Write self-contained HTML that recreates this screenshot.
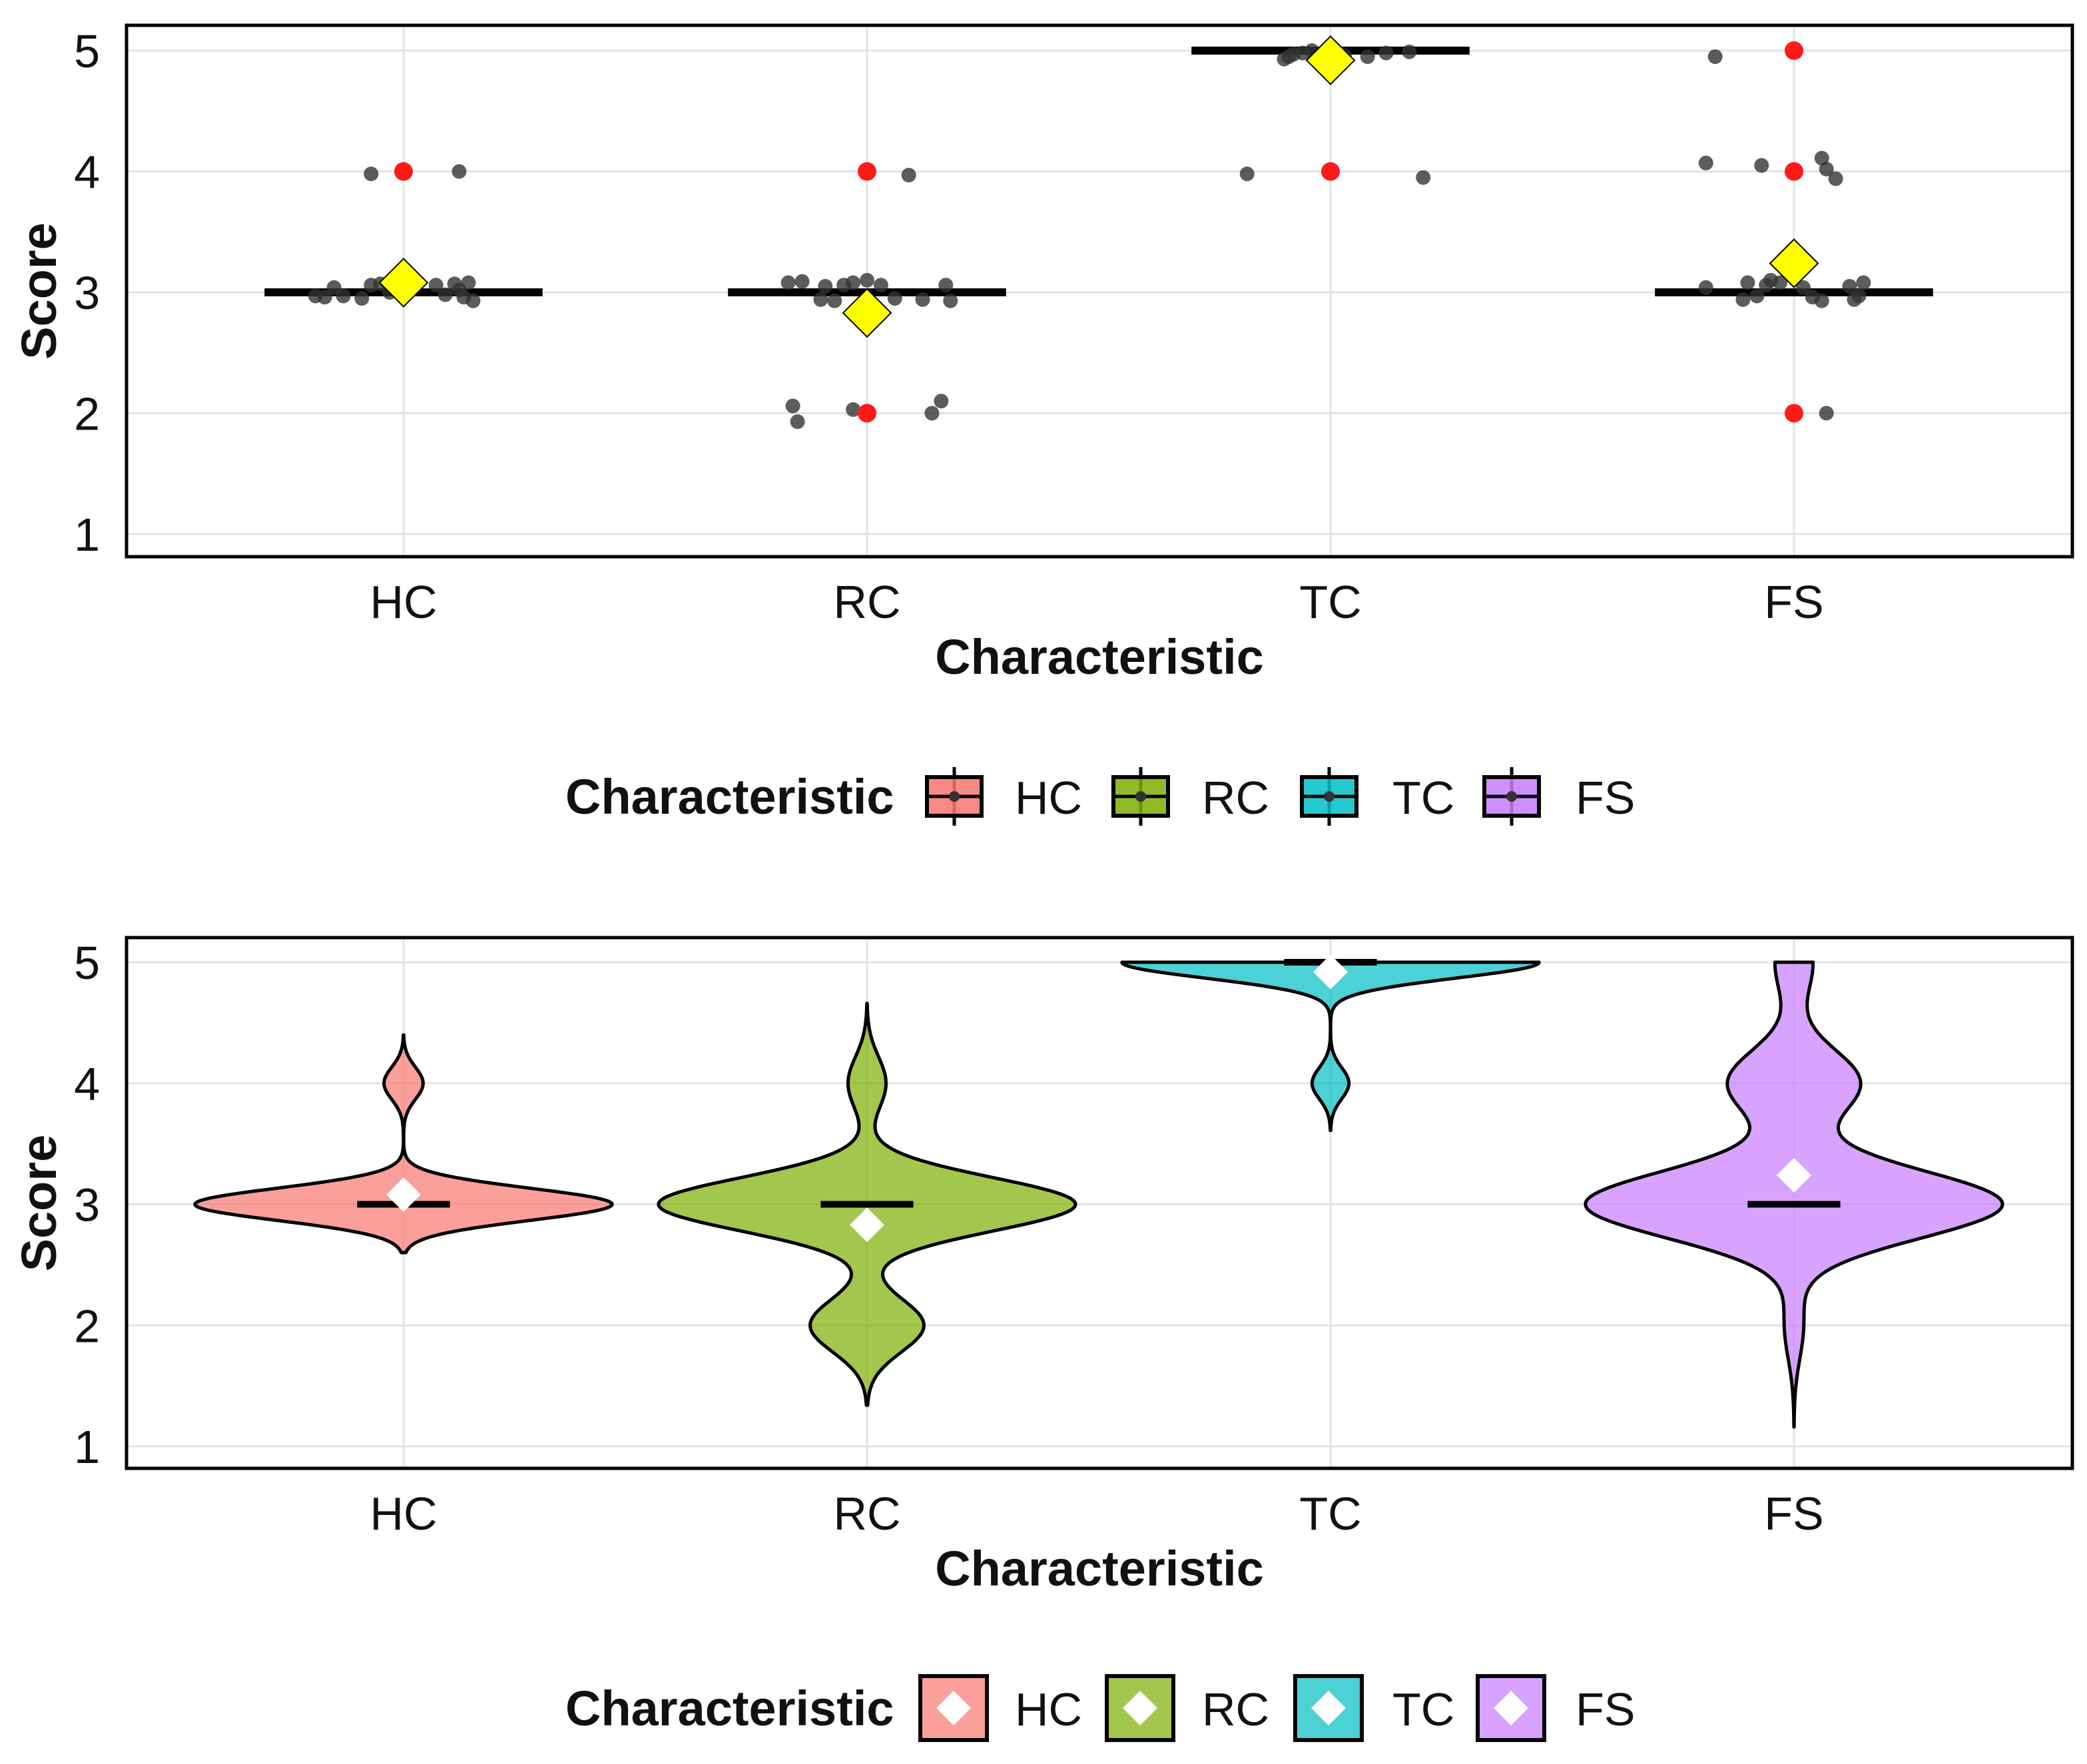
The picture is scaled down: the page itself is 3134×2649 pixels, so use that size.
<!DOCTYPE html>
<html><head><meta charset="utf-8"><style>
html,body{margin:0;padding:0;background:#fff;}
svg{display:block;font-family:"Liberation Sans",Arial,sans-serif;}
</style></head><body>
<svg id="chart" width="3134" height="2649" viewBox="0 0 3134 2649" xmlns="http://www.w3.org/2000/svg"></svg>
<script>
const categories = ["HC","RC","TC","FS"];
const colors = ["#F8766D","#7CAE00","#00BFC4","#C77CFF"];
const yTicks = [1,2,3,4,5];
const medians = [3,3,5,3];
const means = [3.08,2.83,4.92,3.24];
const outliersHC = [4];
const outliersRC = [4,2];
const outliersTC = [4];
const outliersFS = [5,4,2];
const jitterHC = [[-0.19,2.97],[-0.17,2.96],[-0.15,3.04],[-0.13,2.97],[-0.09,2.95],[-0.07,3.06],[-0.05,3.07],[-0.03,3.0],[0.07,3.06],[0.09,2.98],[0.11,3.07],[0.12,3.02],[0.13,2.96],[0.14,3.08],[0.15,2.93],[-0.07,3.98],[0.12,4.0]];
const jitterRC = [[-0.17,3.08],[-0.14,3.09],[-0.1,2.94],[-0.09,3.05],[-0.07,2.93],[-0.05,3.06],[-0.03,3.08],[0.0,3.1],[0.03,3.06],[0.06,2.95],[0.12,2.94],[0.17,3.06],[0.18,2.93],[-0.16,2.06],[-0.15,1.93],[-0.03,2.03],[0.14,2.0],[0.16,2.1],[0.09,3.97]];
const jitterTC = [[-0.1,4.93],[-0.09,4.95],[-0.08,4.97],[-0.06,4.98],[-0.04,5.0],[0.03,4.96],[0.08,4.95],[0.12,4.98],[0.17,4.99],[-0.18,3.98],[0.2,3.95]];
const jitterFS = [[-0.17,4.95],[-0.19,4.07],[-0.07,4.05],[0.06,4.11],[0.07,4.02],[0.09,3.94],[0.07,2.0],[-0.19,3.04],[-0.11,2.94],[-0.1,3.08],[-0.08,2.97],[-0.06,3.06],[-0.05,3.1],[-0.03,3.08],[0.02,3.04],[0.04,2.96],[0.06,2.93],[0.12,3.05],[0.13,2.94],[0.14,2.97],[0.15,3.08]];
const scoreLevels = [1,2,3,4,5];
const countsHC = [0,0,32,3,0];
const countsRC = [0,6,22,2,0];
const countsTC = [0,0,0,3,34];
const countsFS = [0,1,22,7,2];
const bandwidths = [0.133,0.22,0.13,0.28];

const outliers=[outliersHC,outliersRC,outliersTC,outliersFS];
const jitters=[jitterHC,jitterRC,jitterTC,jitterFS];
const counts=[countsHC,countsRC,countsTC,countsFS];
const NS="http://www.w3.org/2000/svg";
const svg=document.getElementById("chart");
function mk(tag,attrs,parent,text){const e=document.createElementNS(NS,tag);for(const k in attrs)e.setAttribute(k,attrs[k]);if(text!==undefined)e.textContent=text;(parent||svg).appendChild(e);return e;}
const X0=190,X1=3112,step=696,cx0=606;
function xPos(i){return cx0+i*step;}

function panel(top,bottom,y5,y1,name){
  const g=mk("g",{});
  
  
  const yS=v=>y1+(v-1)*(y5-y1)/4;
  yTicks.forEach(t=>{
    const l=mk("line",{x1:X0,x2:X1,y1:yS(t),y2:yS(t),stroke:"#e3e3e3","stroke-width":3},g);
    
    
    const tx=mk("text",{x:150,y:yS(t)+25,"text-anchor":"end","font-size":70,fill:"#111"},g,String(t));
    
    
  });
  categories.forEach((c,i)=>{
    const l=mk("line",{x1:xPos(i),x2:xPos(i),y1:top,y2:bottom,stroke:"#e3e3e3","stroke-width":3},g);
    
    
    const tx=mk("text",{x:xPos(i),y:bottom+92,"text-anchor":"middle","font-size":70,fill:"#111"},g,c);
    
    
  });
  const xt=mk("text",{x:1651,y:bottom+176,"text-anchor":"middle","font-size":74,"font-weight":"bold",fill:"#111"},g,"Characteristic");
  
  
  const yc=(top+bottom)/2;
  const yt=mk("text",{x:0,y:0,"text-anchor":"middle","font-size":74,"font-weight":"bold",fill:"#111",transform:`translate(84,${yc}) rotate(-90)`},g,"Score");
  
  
  return {g,yS};
}
function frame(top,bottom){
  const r=mk("rect",{x:X0,y:top,width:X1-X0,height:bottom-top,fill:"none",stroke:"#000","stroke-width":5});
  
  
}

/* TOP PANEL */
const p1=panel(38,836,76,802,'boxplot-panel');
categories.forEach((c,i)=>{
  const m=mk("line",{x1:xPos(i)-0.3*step,x2:xPos(i)+0.3*step,y1:p1.yS(medians[i]),y2:p1.yS(medians[i]),stroke:"#000","stroke-width":12},p1.g);
  
  
  jitters[i].forEach(p=>{
    const d=mk("circle",{cx:xPos(i)+p[0]*step,cy:p1.yS(p[1]),r:11,fill:"#333","fill-opacity":0.8},p1.g);
    
    
  });
  outliers[i].forEach(v=>{
    const d=mk("circle",{cx:xPos(i),cy:p1.yS(v),r:14,fill:"#ff1a1a"},p1.g);
    
    
  });
  const cx=xPos(i),cy=p1.yS(means[i]),s=36;
  const dm=mk("polygon",{points:`${cx},${cy-s} ${cx+s},${cy} ${cx},${cy+s} ${cx-s},${cy}`,fill:"#ffff00",stroke:"#000","stroke-width":2},p1.g);
  
  
});
frame(38,836);

/* BOTTOM PANEL */
const p2=panel(1408,2205,1445,2172,'violin-panel');
categories.forEach((c,i)=>{
  const bw=bandwidths[i],cn=counts[i];
  const lo=Math.min(...scoreLevels.filter((s,k)=>cn[k]>0)),hi=Math.max(...scoreLevels.filter((s,k)=>cn[k]>0));
  const ya=Math.max(1,lo-3*bw),yb=Math.min(5,hi+3*bw);
  const dens=y=>cn.reduce((a,n,k)=>a+n*Math.exp(-0.5*((y-scoreLevels[k])/bw)**2),0);
  const N=200,ys=[],ds=[];
  for(let k=0;k<=N;k++){const y=ya+(yb-ya)*k/N;ys.push(y);ds.push(dens(y));}
  const mx=Math.max(...ds);
  const right=ys.map((y,k)=>[xPos(i)+ds[k]/mx*0.45*step,p2.yS(y)]);
  const left=ys.map((y,k)=>[xPos(i)-ds[k]/mx*0.45*step,p2.yS(y)]).reverse();
  const pts=right.concat(left).map(p=>p[0].toFixed(1)+","+p[1].toFixed(1)).join(" ");
  const v=mk("polygon",{points:pts,fill:colors[i],"fill-opacity":0.7,stroke:"#000","stroke-width":5,"stroke-linejoin":"round"},p2.g);
  
  
  const m=mk("line",{x1:xPos(i)-0.1*step,x2:xPos(i)+0.1*step,y1:p2.yS(medians[i]),y2:p2.yS(medians[i]),stroke:"#000","stroke-width":10},p2.g);
  
  
  const cx=xPos(i),cy=p2.yS(means[i]),s=26;
  const dm=mk("polygon",{points:`${cx},${cy-s} ${cx+s},${cy} ${cx},${cy+s} ${cx-s},${cy}`,fill:"#fff"},p2.g);
  
  
});
frame(1408,2205);

/* LEGENDS */
const keyX=[1392,1672,1955,2229], labX=[1524,1805,2091,2366];
function legend(cy,type,name){
  const g=mk("g",{});
  
  
  const t=mk("text",{x:849,y:cy+26,"font-size":74,"font-weight":"bold",fill:"#111"},g,"Characteristic");
  
  
  categories.forEach((c,i)=>{
    const kg=mk("g",{},g);
    
    
    if(type==='box'){
      const x=keyX[i],w=82,mid=x+w/2;
      mk("line",{x1:mid,x2:mid,y1:cy-44,y2:cy+44,stroke:"#000","stroke-width":5},kg);
      mk("rect",{x:x,y:cy-29,width:w,height:58,fill:colors[i],"fill-opacity":0.85,stroke:"#000","stroke-width":6},kg);
      mk("line",{x1:x,x2:x+w,y1:cy,y2:cy,stroke:"#000","stroke-width":5},kg);
      mk("circle",{cx:mid,cy:cy,r:8,fill:"#333"},kg);
    } else {
      const x=keyX[i]-10,w=100,mid=x+w/2;
      mk("rect",{x:x,y:cy-48,width:w,height:96,fill:colors[i],"fill-opacity":0.7,stroke:"#000","stroke-width":6},kg);
      mk("polygon",{points:`${mid},${cy-26} ${mid+26},${cy} ${mid},${cy+26} ${mid-26},${cy}`,fill:"#fff"},kg);
    }
    mk("text",{x:labX[i],y:cy+26,"font-size":70,fill:"#111"},kg,c);
  });
}
legend(1196,'box','legend-boxplot');
legend(2565,'violin','legend-violin');
</script>
</body></html>
